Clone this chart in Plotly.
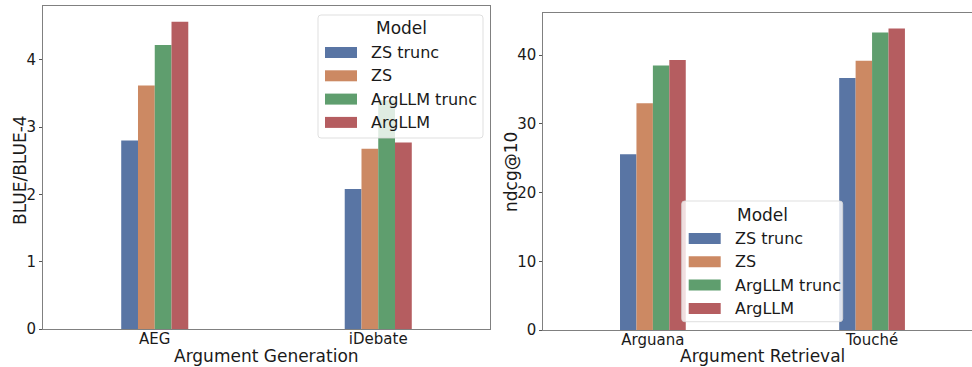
import plotly.graph_objects as go

models = ["ZS trunc", "ZS", "ArgLLM trunc", "ArgLLM"]
colors = ["#5975a4", "#cc8963", "#5f9e6e", "#b55d60"]

gen_categories = ["AEG", "iDebate"]
gen_values = {
    "ZS trunc": [2.80, 2.08],
    "ZS": [3.62, 2.68],
    "ArgLLM trunc": [4.22, 3.40],
    "ArgLLM": [4.565, 2.77],
}

ret_categories = ["Arguana", "Touché"]
ret_values = {
    "ZS trunc": [25.6, 36.7],
    "ZS": [33.0, 39.2],
    "ArgLLM trunc": [38.5, 43.3],
    "ArgLLM": [39.3, 43.9],
}

FONT = "DejaVu Sans"
TXT = "#1a1a1a"
W, H = 972, 367

fig = go.Figure()
for m, c in zip(models, colors):
    fig.add_trace(go.Bar(x=gen_categories, y=gen_values[m], name=m, marker=dict(color=c, line=dict(width=0)),
                         xaxis="x", yaxis="y", offsetgroup=m, showlegend=False))
for m, c in zip(models, colors):
    fig.add_trace(go.Bar(x=ret_categories, y=ret_values[m], name=m, marker=dict(color=c, line=dict(width=0)),
                         xaxis="x2", yaxis="y2", offsetgroup=m, showlegend=False))

common = dict(showline=True, linecolor="#808080", linewidth=1, mirror=True,
              showgrid=False, zeroline=False, automargin=False,
              tickfont=dict(family=FONT, size=15, color=TXT))
xcommon = dict(ticks="", ticklabelstandoff=-4, **common)
ycommon = dict(ticks="outside", ticklen=3, tickcolor="#555555", **common)

fig.update_layout(
    width=W, height=H,
    margin=dict(l=0, r=0, t=0, b=0),
    paper_bgcolor="white", plot_bgcolor="white",
    barmode="group", bargap=0.7, bargroupgap=0,
    font=dict(family=FONT),
    showlegend=False,
    xaxis=dict(domain=[43 / W, 490 / W], range=[-0.5, 1.5], anchor="y", **xcommon),
    yaxis=dict(domain=[1 - 329 / H, 1 - 6 / H], range=[0, 4.8], anchor="x", dtick=1, **ycommon),
    xaxis2=dict(domain=[543.3 / W, 1.0], range=[-0.5, 1.456], anchor="y2", **xcommon),
    yaxis2=dict(domain=[1 - 330 / H, 1 - 13.3 / H], range=[0, 46.1], anchor="x2", dtick=10, **ycommon),
)


def px_x(v):
    return v / W


def px_y(v):
    return 1 - v / H


def add_text(text, x, y, size, angle=0, xanchor="center"):
    fig.add_annotation(text=text, x=px_x(x), y=px_y(y), xref="paper", yref="paper", showarrow=False,
                       xanchor=xanchor, yanchor="middle", textangle=angle,
                       font=dict(family=FONT, size=size, color=TXT))


# axis titles
add_text("Argument Generation", 266.5, 356, 17)
add_text("Argument Retrieval", 762, 356, 17)
add_text("BLUE/BLUE-4", 20, 170, 17, angle=-90)
add_text("ndcg@10", 511, 172, 17, angle=-90)


def add_legend(x0, y0, x1, y1):
    r = 3
    path = (f"M {px_x(x0 + r)},{px_y(y0)} L {px_x(x1 - r)},{px_y(y0)} "
            f"Q {px_x(x1)},{px_y(y0)} {px_x(x1)},{px_y(y0 + r)} "
            f"L {px_x(x1)},{px_y(y1 - r)} Q {px_x(x1)},{px_y(y1)} {px_x(x1 - r)},{px_y(y1)} "
            f"L {px_x(x0 + r)},{px_y(y1)} Q {px_x(x0)},{px_y(y1)} {px_x(x0)},{px_y(y1 - r)} "
            f"L {px_x(x0)},{px_y(y0 + r)} Q {px_x(x0)},{px_y(y0)} {px_x(x0 + r)},{px_y(y0)} Z")
    fig.add_shape(type="path", path=path, xref="paper", yref="paper", layer="above",
                  fillcolor="rgba(255,255,255,0.8)", line=dict(color="rgba(215,215,215,0.8)", width=1))
    add_text("Model", (x0 + x1) / 2 + 0.5, y0 + 13.5, 17)
    for i, (m, c) in enumerate(zip(models, colors)):
        yc = y0 + 37.5 + 23.3 * i
        fig.add_shape(type="rect", xref="paper", yref="paper", layer="above",
                      x0=px_x(x0 + 7), x1=px_x(x0 + 39), y0=px_y(yc - 5.5), y1=px_y(yc + 5.5),
                      fillcolor=c, line=dict(width=0))
        add_text(m, x0 + 51, yc, 16, xanchor="left")


add_legend(318, 15, 483, 138)
add_legend(681.7, 201, 842.7, 321.7)

fig.write_html("out.html")
